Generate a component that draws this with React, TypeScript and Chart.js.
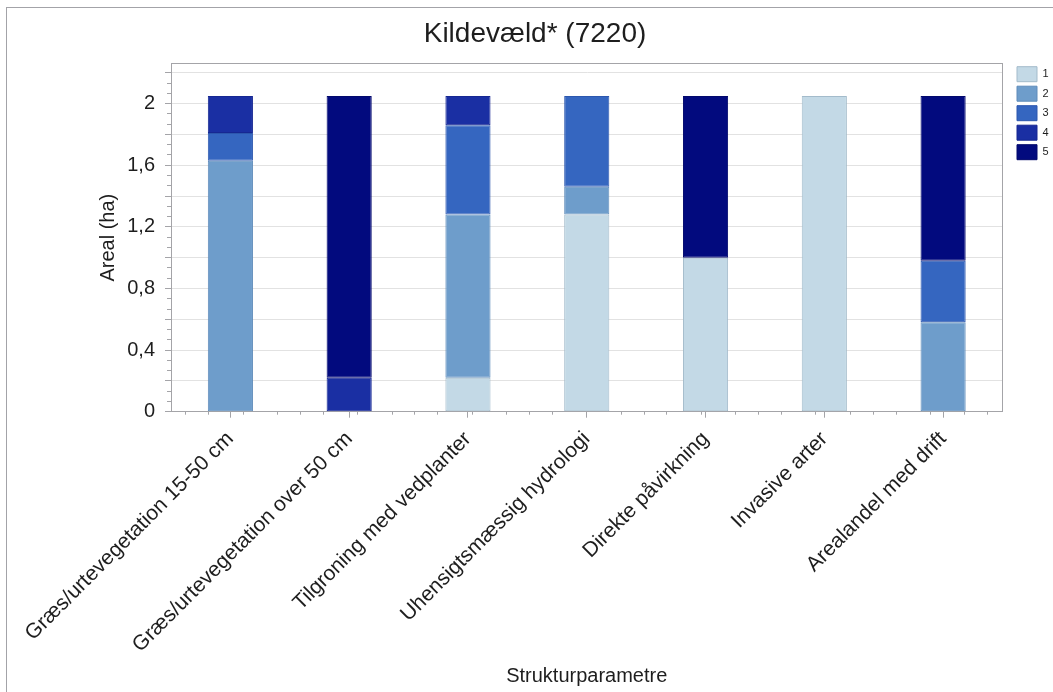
import React, { useEffect, useRef } from 'react';
import { Chart, registerables } from 'chart.js';

Chart.register(...registerables);

const chartTitle = 'Kildevæld* (7220)';
const xTitle = 'Strukturparametre';
const yTitle = 'Areal (ha)';

const categories = [
  'Græs/urtevegetation 15-50 cm',
  'Græs/urtevegetation over 50 cm',
  'Tilgroning med vedplanter',
  'Uhensigtsmæssig hydrologi',
  'Direkte påvirkning',
  'Invasive arter',
  'Arealandel med drift',
];

const seriesNames = ['1', '2', '3', '4', '5'];

const s1 = [null, null, 0.22, 1.28, 1.0, 2.05, null];
const s2 = [1.63, null, 1.06, 0.18, null, null, 0.58];
const s3 = [0.18, null, 0.58, 0.59, null, null, 0.4];
const s4 = [0.24, 0.22, 0.19, null, null, null, null];
const s5 = [null, 1.83, null, null, 1.05, null, 1.07];

const fillColors = ['#C3D9E6', '#6E9DCB', '#3566C0', '#1A2FA3', '#020A7E'];
const borderColors = ['#A3BBCB', '#5E8BBA', '#2C57AE', '#162792', '#02086C'];

const yMax = 2.26;
const yGridValues = [0, 0.2, 0.4, 0.6, 0.8, 1.0, 1.2, 1.4, 1.6, 1.8, 2.0, 2.2];
const yLabelValues = [0, 0.4, 0.8, 1.2, 1.6, 2.0];
const yMinorStep = 0.2 / 3;
const xMinorOffsets = [-0.4, -0.2, 0.2, 0.4];

const FONT = "'Liberation Sans', Arial, sans-serif";
const TEXT = '#1e1e1e';
const AXIS = '#a4a4a8';
const GRID = '#e2e2e2';

export default function App() {
  const ref = useRef<HTMLCanvasElement | null>(null);

  useEffect(() => {
    if (!ref.current) return;
    const series = [s1, s2, s3, s4, s5];
    const chart = new Chart(ref.current, {
      type: 'bar',
      data: {
        labels: categories,
        datasets: series.map((d, i) => ({
          label: seriesNames[i],
          data: d,
          backgroundColor: fillColors[i],
          borderColor: borderColors[i],
          borderWidth: 1,
          borderSkipped: false,
          barPercentage: 0.38,
          categoryPercentage: 1,
        })),
      },
      options: {
        animation: false,
        responsive: false,
        devicePixelRatio: 1,
        layout: { padding: { left: 17, right: 0, top: 0, bottom: 0 } },
        plugins: {
          title: {
            display: true,
            text: chartTitle,
            color: TEXT,
            font: { family: FONT, size: 28, weight: 'normal' },
            padding: { top: 17, bottom: 13 },
          },
          legend: {
            display: true,
            position: 'right',
            align: 'start',
            maxWidth: 40.5,
            title: {
              display: true,
              text: ' ',
              padding: { top: 49, bottom: 0 },
              font: { family: FONT, size: 11 },
            },
            labels: {
              boxWidth: 20,
              boxHeight: 15,
              padding: 4.5,
              color: TEXT,
              font: { family: FONT, size: 11 },
            },
          },
          tooltip: { enabled: false },
        },
        scales: {
          x: {
            type: 'category',
            stacked: true,
            position: 'bottom',
            weight: 0,
            offset: true,
            grid: {
              offset: false,
              drawOnChartArea: false,
              drawTicks: true,
              tickLength: 6,
              tickColor: AXIS,
            },
            border: { display: true, color: AXIS, width: 1 },
            ticks: {
              autoSkip: false,
              maxRotation: 45,
              minRotation: 45,
              padding: 9,
              color: TEXT,
              font: { family: FONT, size: 21 },
            },
            title: {
              display: true,
              text: xTitle,
              color: TEXT,
              font: { family: FONT, size: 20 },
              padding: { top: 4, bottom: 4 },
            },
            afterFit: (scale: any) => {
              scale.height = 280.3;
            },
          },
          xMinor: {
            type: 'linear',
            position: 'bottom',
            weight: -1,
            min: -0.5,
            max: 6.5,
            grid: { drawOnChartArea: false, drawTicks: true, tickLength: 3, tickColor: AXIS },
            border: { display: false },
            ticks: { display: false },
            afterBuildTicks: (scale: any) => {
              const t: any[] = [];
              categories.forEach((_, i) => xMinorOffsets.forEach((o) => t.push({ value: i + o })));
              scale.ticks = t;
            },
            afterFit: (scale: any) => {
              scale.height = 0;
            },
          },
          xTop: {
            type: 'linear',
            position: 'top',
            min: 0,
            max: 1,
            grid: { display: false, drawTicks: false },
            border: { display: true, color: AXIS, width: 1 },
            ticks: { display: false },
            afterFit: (scale: any) => {
              scale.height = 0;
            },
          },
          y: {
            type: 'linear',
            stacked: true,
            position: 'left',
            weight: 0,
            min: 0,
            max: yMax,
            afterBuildTicks: (scale: any) => {
              scale.ticks = yGridValues.map((v) => ({ value: v }));
            },
            grid: {
              color: GRID,
              drawTicks: true,
              tickLength: 6,
              tickColor: AXIS,
            },
            border: { display: true, color: AXIS, width: 1 },
            ticks: {
              padding: 10,
              color: TEXT,
              font: { family: FONT, size: 20 },
              callback: (value: any) => {
                const v = Number(value);
                const isLabel = yLabelValues.some((l) => Math.abs(l - v) < 1e-6);
                if (!isLabel) return '';
                return String(Math.round(v * 10) / 10).replace('.', ',');
              },
            },
            title: {
              display: true,
              text: yTitle,
              color: TEXT,
              font: { family: FONT, size: 20 },
              padding: { top: 79, bottom: 4 },
            },
            afterFit: (scale: any) => {
              scale.width = 154;
            },
          },
          yMinor: {
            type: 'linear',
            position: 'left',
            weight: -1,
            min: 0,
            max: yMax,
            afterBuildTicks: (scale: any) => {
              const t: any[] = [];
              for (let k = 0; k * yMinorStep <= 2.2 + 1e-6; k++) t.push({ value: k * yMinorStep });
              scale.ticks = t;
            },
            grid: { drawOnChartArea: false, drawTicks: true, tickLength: 4, tickColor: AXIS },
            border: { display: false },
            ticks: { display: false },
            afterFit: (scale: any) => {
              scale.width = 0;
            },
          },
          yRight: {
            type: 'linear',
            position: 'right',
            min: 0,
            max: 1,
            grid: { display: false, drawTicks: false },
            border: { display: true, color: AXIS, width: 1 },
            ticks: { display: false },
            afterFit: (scale: any) => {
              scale.width = 10;
            },
          },
        },
      },
    } as any);
    return () => chart.destroy();
  }, []);

  return (
    <div style={{ position: 'fixed', left: 0, top: 0, width: 1053, height: 692, overflow: 'hidden', background: '#fff' }}>
      <div
        style={{
          position: 'absolute',
          left: 6,
          top: 7,
          width: 1200,
          height: 900,
          borderLeft: '1px solid #a3a3a8',
          borderTop: '1px solid #a3a3a8',
        }}
      />
      <canvas ref={ref} width={1053} height={692} style={{ position: 'absolute', left: 0, top: 0, width: 1053, height: 692 }} />
    </div>
  );
}
